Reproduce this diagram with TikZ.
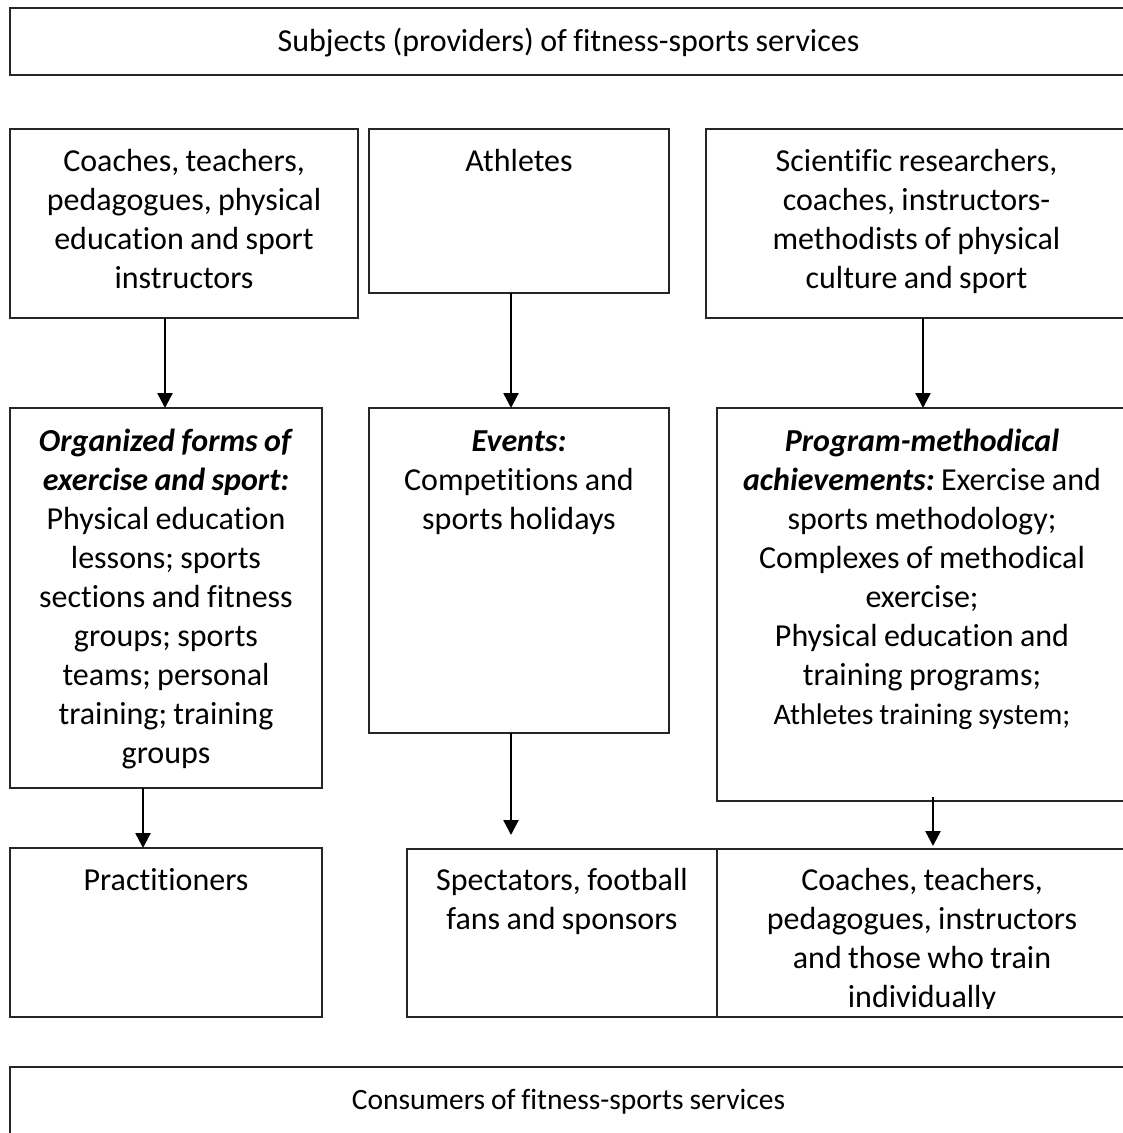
\documentclass[tikz,border=0pt]{standalone}
\usepackage{fontspec}
\setmainfont{Carlito}[Ligatures=NoCommon]
\usetikzlibrary{arrows.meta,calc}
\newcommand{\tightsp}{\spaceskip=0.2em\relax\xspaceskip=0.2em\relax}
\begin{document}
\frenchspacing
\begin{tikzpicture}[x=1pt,y=-1pt,
  box/.style={draw=black!85, line width=1.4pt, rectangle, inner sep=0pt, outer sep=0pt},
  txt/.style={anchor=base, align=center, inner sep=0pt, outer sep=0pt, font=\fontsize{32}{39}\selectfont, execute at begin node=\tightsp},
  arr/.style={line width=2.5pt, -{Triangle[length=15pt,width=15pt]}}]
\useasboundingbox (0,0) rectangle (1123,1133);
\clip (0,0) rectangle (1123,1133);
% boxes
\node[box, minimum width=1117pt, minimum height=67pt] (T) at (568.5,41.5) {};
\node[box, minimum width=348pt, minimum height=189pt] (A) at (184,223.5) {};
\node[box, minimum width=300pt, minimum height=164pt] (B) at (519,211) {};
\node[box, minimum width=421pt, minimum height=189pt] (C) at (916.5,223.5) {};
\node[box, minimum width=312pt, minimum height=380pt] (D) at (166,598) {};
\node[box, minimum width=300pt, minimum height=325pt] (E) at (519,570.5) {};
\node[box, minimum width=410pt, minimum height=393pt] (F) at (922,604.5) {};
\node[box, minimum width=312pt, minimum height=169pt] (G) at (166,932.5) {};
\node[box, minimum width=310pt, minimum height=168pt] (H) at (562,933) {};
\node[box, minimum width=410pt, minimum height=168pt] (I) at (922,933) {};
\node[box, minimum width=1117pt, minimum height=83pt] (K) at (568.5,1108.5) {};
% texts
\node[txt, text width=1117pt] (Tt) at (568.5,51) {Subjects (providers) of fitness-sports services};
\node[txt, text width=348pt] (At) at (184,171) {Coaches, teachers,\\pedagogues, physical\\education and sport\\instructors};
\node[txt, text width=300pt] (Bt) at (519,171) {Athletes};
\node[txt, text width=421pt] (Ct) at (916.5,171) {Scientific researchers,\\coaches, instructors-\\methodists of physical\\culture and sport};
\node[txt, text width=312pt] (Dt) at (166,451) {\textbf{\textit{Organized forms of}}\\\textbf{\textit{exercise and sport:}}\\Physical education\\lessons; sports\\sections and fitness\\groups; sports\\teams; personal\\training; training\\groups};
\node[txt, text width=300pt] (Et) at (519,451) {\textbf{\textit{Events:}}\\Competitions and\\sports holidays};
\node[txt, text width=410pt] (Ft) at (922,451) {\textbf{\textit{Program-methodical}}\hspace*{36pt}\\\textbf{\textit{achievements:}} Exercise and\hspace*{10pt}\\sports methodology;\\Complexes of methodical\\exercise;\hspace*{30pt}\\Physical education and\\training programs;\\{\fontsize{29.8}{34}\selectfont\tightsp Athletes training system;}};
\node[txt, text width=312pt] (Gt) at (166,890) {Practitioners};
\node[txt, text width=310pt] (Ht) at (562,890) {Spectators, football\\fans and sponsors};
\begin{scope}
\clip (717,849) rectangle (1127,1008);
\node[txt, text width=410pt] (It) at (922,890) {Coaches, teachers,\\pedagogues, instructors\\and those who train\\individually};
\end{scope}
\node[txt, text width=1117pt, font=\fontsize{29.5}{35}\selectfont] (Kt) at (568.5,1109) {Consumers of fitness-sports services};
% connectors
\coordinate (a1) at ($(A.south)+(-19,0)$);
\coordinate (b1) at ($(B.south)+(-8,0)$);
\coordinate (c1) at ($(C.south)+(6.5,0)$);
\coordinate (d1) at ($(D.south)+(-23,0)$);
\coordinate (e1) at ($(E.south)+(-8,0)$);
\coordinate (e2) at ($(e1 |- H.north)+(0,-14)$);
\coordinate (f1) at ($(F.south)+(11,-4)$);
\coordinate (f2) at ($(f1 |- I.north)+(0,-3)$);
\draw[arr] (a1) -- (a1 |- D.north);
\draw[arr] (b1) -- (b1 |- E.north);
\draw[arr] (c1) -- (c1 |- F.north);
\draw[arr] (d1) -- (d1 |- G.north);
\draw[arr] (e1) -- (e2);
\draw[arr] (f1) -- (f2);
\end{tikzpicture}
\end{document}
